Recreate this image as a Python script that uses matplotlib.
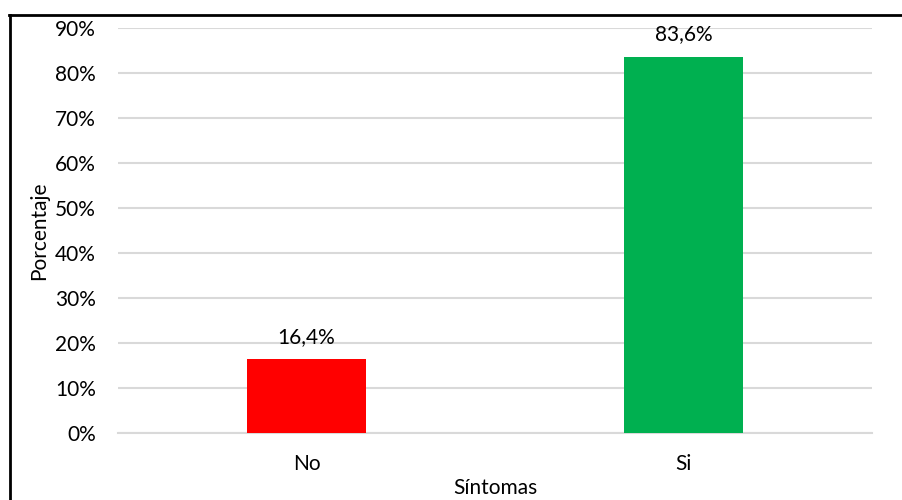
import matplotlib.pyplot as plt
from matplotlib.lines import Line2D

categories = ['No', 'Si']
values = [16.4, 83.6]
labels = ['16,4%', '83,6%']
colors = ['#FF0000', '#00B050']
yticks = [0, 10, 20, 30, 40, 50, 60, 70, 80, 90]

plt.rcParams['font.family'] = ['Lato', 'DejaVu Sans']
fs = 15

fig = plt.figure(figsize=(9.02, 5.0), dpi=100)
ax = fig.add_axes([118/902, 1-433/500, 754/902, 405/500])

x = range(len(categories))
ax.bar(x, values, width=0.313, color=colors, zorder=3)
for xi, v, lab in zip(x, values, labels):
    ax.annotate(lab, (xi, v), xytext=(0, 9), textcoords='offset points',
                ha='center', va='bottom', fontsize=fs, color='#000000')

ax.set_xlim(-0.5, 1.5)
ax.set_ylim(0, 90)
ax.set_yticks(yticks)
ax.set_yticklabels([f'{t}%' for t in yticks], fontsize=fs)
ax.set_xticks(list(x))
ax.set_xticklabels(categories, fontsize=fs)
ax.tick_params(axis='y', length=0, pad=16)
ax.tick_params(axis='x', length=0, pad=15)
ax.grid(axis='y', color='#D9D9D9', linewidth=1.5, zorder=0)
for s in ['top', 'right', 'left']:
    ax.spines[s].set_visible(False)
ax.spines['bottom'].set_color('#D9D9D9')
ax.spines['bottom'].set_linewidth(1.5)

ax.set_xlabel('Síntomas', fontsize=fs, labelpad=3)
ax.set_ylabel('Porcentaje', fontsize=fs, labelpad=4)

# outer frame (top and left only)
fig.add_artist(Line2D([10/902, 10/902], [0, 1-15/500], transform=fig.transFigure, color='black', linewidth=2))
fig.add_artist(Line2D([9/902, 1], [1-15/500, 1-15/500], transform=fig.transFigure, color='black', linewidth=2))

fig.savefig('out.png', dpi=100)
